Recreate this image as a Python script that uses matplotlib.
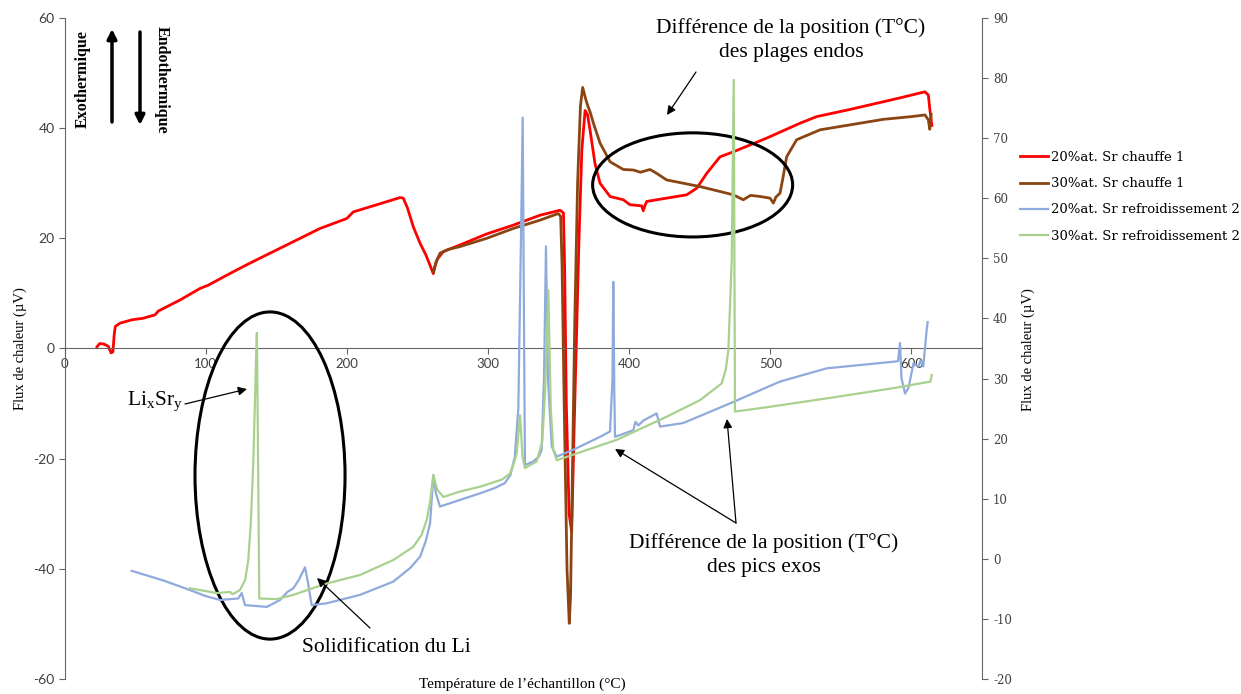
import matplotlib
matplotlib.use("Agg")
import matplotlib.pyplot as plt
from matplotlib.patches import Ellipse

plt.rcParams["axes.unicode_minus"] = False

# --- donnees ---
red_t = [23, 25, 28, 31, 33, 34.3, 35.2, 36, 39.3, 47.6, 55.8, 64.1, 66.5, 81.8, 96, 101.9, 114.9,
         129.1, 138.5, 152.7, 166.9, 181.1, 200, 204.6, 220, 237.7, 240, 243, 247.1, 251.9, 256,
         261.3, 262.5, 264, 268.4, 280.2, 299.1, 318, 336.9, 351.1, 353.5, 354.3, 355.5, 357.5,
         359.3, 361, 362.5, 364.5, 366.5, 368.8, 370.5, 372.3, 375.8, 379.4, 386.5, 395.9, 400.6,
         408.9, 410, 411, 412.5, 426.6, 440.8, 447.9, 455, 464.4, 473.8, 497.5, 521.1, 532.9,
         556.5, 591.9, 609.6, 612, 613, 614.5]
red_y = [0.3, 0.9, 0.8, 0.4, -0.8, -0.6, 2.5, 4.0, 4.6, 5.2, 5.5, 6.1, 6.8, 8.8, 10.9, 11.5, 13.3,
         15.2, 16.4, 18.2, 20.0, 21.8, 23.6, 24.8, 26.0, 27.4, 27.3, 25.5, 22.1, 19.1, 17.0,
         13.6, 14.9, 16.2, 17.6, 18.8, 20.8, 22.4, 24.2, 25.1, 24.6, 15, -10, -30,
         -33.3, -15, 0, 20, 36, 43.2, 42.5, 39.7, 33.6, 30.0, 27.6, 27.0, 26.1,
         25.9, 25.0, 25.8, 26.7, 27.3, 27.9, 29.1, 31.8, 34.8, 35.7, 38.2, 40.9, 42.1,
         43.4, 45.5, 46.6, 46.0, 43.5, 40.5]

brown_t = [261.3, 263, 266, 272, 280.2, 299.1, 318, 336.9, 349.8, 351.5, 352.5, 354, 356, 357.6,
           358.5, 360, 361.5, 363.5, 365.5, 367.1, 369, 370.5, 372.3, 374.7, 379.4, 386.5, 395.9,
           403, 408, 414.8, 419.5, 426.6, 438.4, 450.2, 464.4, 473.8, 480.9, 486, 492.7, 499.8,
           502.2, 504, 506.9, 509, 511.6, 518.7, 535.3, 556.5, 580, 600, 609.6, 612, 613, 614]
brown_y = [13.9, 15.5, 17.3, 18.0, 18.5, 20.0, 21.8, 23.3, 24.5, 24.0, 15, -10, -40, -49.9,
           -45, -20, 5, 30, 44, 47.4, 45.5, 44.2, 43.0, 40.9, 37.3, 33.9, 32.5,
           32.4, 32.0, 32.5, 31.8, 30.6, 30.0, 29.4, 28.5, 27.9, 27.0, 27.8, 27.6, 27.3,
           26.4, 27.5, 28.2, 31, 34.8, 37.9, 39.7, 40.6, 41.6, 42.1, 42.4, 41.5, 39.8, 42.5]

blue_t = [47.6, 70, 88.9, 100, 110.2, 123.1, 125.5, 127.9, 143.3, 152.7, 158, 162.1, 166, 170.4,
          172.5, 175.1, 185.8, 209.3, 232.9, 245, 251.9, 256, 259, 261.3, 263, 266, 280.2, 294.4,
          305, 312, 316, 319, 321.5, 323.5, 324.6, 325.5, 326.2, 332.1, 336, 338, 339.7, 341.1,
          342.5, 345.2, 348.7, 360, 379.4, 386.5, 388.2, 388.8, 389.5, 390, 403, 404.5, 406.5,
          410, 417.2, 419.5, 421.9, 438.4, 473.8, 506.9, 540, 587.2, 590.5, 591.9, 593, 595.5,
          598, 601.4, 605, 606.5, 608.4, 610.8, 611.5]
blue_y = [-2.0, -3.6, -5.2, -6.2, -6.85, -6.6, -5.7, -7.7, -8.0, -6.85, -5.5, -4.9, -3.5, -1.4,
          -4.0, -7.7, -7.4, -6.0, -3.8, -1.5, 0.35, 3.0, 5.9, 13.95, 11.0, 8.7, 9.8, 10.9,
          11.8, 12.6, 14.0, 17.0, 25, 55, 73.4, 40, 15.6, 16.2, 17.0, 18.1, 30, 52.0,
          30, 18.7, 17.0, 18.1, 20.3, 21.2, 30, 46.1, 28, 20.3, 21.4, 22.8, 22.2,
          23.0, 23.9, 24.2, 22.0, 22.6, 26.1, 29.5, 31.7, 32.8, 32.9, 35.9, 30, 27.5,
          28.5, 32.5, 32.0, 33.0, 32.0, 38.1, 39.4]

green_t = [88.9, 107.8, 117.3, 119, 124.3, 128, 130.2, 132, 133.8, 135.7, 136.3, 137, 138, 150.3,
           162.1, 185.8, 209.3, 232.9, 247.1, 253, 256.6, 259, 261.3, 264, 268.4, 280.2, 294.4,
           310, 315.6, 318.5, 320.4, 322.7, 324.5, 326.2, 334.5, 338.5, 340.4, 342.8, 344.5,
           346.3, 348.7, 391.2, 426.6, 450.2, 465.6, 468.5, 470.3, 472.7, 474.1, 474.6, 475,
           499.8, 540, 587.2, 613.5, 614.4]
green_y = [-4.9, -5.7, -5.5, -5.9, -5.2, -3.5, -0.2, 6, 16.4, 33.1, 37.6, 20, -6.6, -6.7,
           -6.0, -4.1, -2.7, -0.2, 2.0, 4.0, 6.45, 9.5, 13.95, 11.5, 10.3, 11.2, 12.0,
           13.2, 14.2, 16, 17.55, 23.9, 17, 15.1, 16.2, 19.5, 27.5, 44.7, 25,
           18.1, 16.4, 19.8, 23.65, 26.4, 29.2, 31.5, 34.75, 49.7, 79.7, 50, 24.5,
           25.3, 26.7, 28.4, 29.5, 30.6]

labels = ["20%at. Sr chauffe 1", "30%at. Sr chauffe 1",
          "20%at. Sr refroidissement 2", "30%at. Sr refroidissement 2"]

serif = "Liberation Serif"
W, H = 1241, 694

def px(x, y):
    # pixels depuis le coin haut gauche -> pixels de la figure
    return (x, H - y)

def fr(x, y):
    # pixels depuis le coin haut gauche -> fraction de la figure
    return (x / W, 1 - y / H)

fig = plt.figure(figsize=(W / 100, H / 100), dpi=100)
ax = fig.add_axes([64.5 / W, 1 - 679 / H, (982 - 64.5) / W, (679 - 18) / H])
ax.set_xlim(0, 650)
ax.set_ylim(-60, 60)
ax2 = ax.twinx()
ax2.set_ylim(-20, 90)

l1, = ax.plot(red_t, red_y, color="#FF0000", lw=2.0)
l2, = ax.plot(brown_t, brown_y, color="#8B4513", lw=2.0)
l3, = ax2.plot(blue_t, blue_y, color="#8FAADC", lw=1.6)
l4, = ax2.plot(green_t, green_y, color="#A9D18E", lw=1.6)

grey = "#666666"
ax.spines["bottom"].set_position(("data", 0))
ax.spines["top"].set_visible(False)
ax.spines["right"].set_visible(False)
for s in ["top", "left", "bottom"]:
    ax2.spines[s].set_visible(False)
ax.spines["bottom"].set_color(grey)
ax.spines["left"].set_color(grey)
ax2.spines["right"].set_color(grey)

ax.set_xticks(range(0, 700, 100))
ax.set_yticks(range(-60, 80, 20))
ax2.set_yticks(range(-20, 100, 10))
ax.tick_params(axis="x", direction="out", length=4, color=grey, pad=3, labelsize=9.5, labelcolor="#404040")
ax.tick_params(axis="y", direction="out", length=4, color=grey, pad=3, labelsize=10, labelcolor="#404040")
ax2.tick_params(axis="y", direction="out", length=4, color=grey, pad=4, labelsize=8.5, labelcolor="#404040")
for lab in ax.get_xticklabels() + ax.get_yticklabels():
    lab.set_fontfamily("Lato")
for lab in ax2.get_yticklabels():
    lab.set_fontfamily("DejaVu Serif")

# titres des axes
fig.text(*fr(522, 684), "Température de l\u2019échantillon (°C)", family=serif, fontsize=11,
         ha="center", va="center")
fig.text(*fr(20, 349), "Flux de chaleur (µV)", family=serif, fontsize=10.5, rotation=90,
         ha="center", va="center")
fig.text(*fr(1028, 350), "Flux de chaleur (µV)", family=serif, fontsize=10.5, rotation=90,
         ha="center", va="center")

fig.legend([l1, l2, l3, l4], labels, loc="upper left", bbox_to_anchor=fr(1020, 151),
           frameon=False, borderpad=0, borderaxespad=0, handlelength=2.1, handletextpad=0.25,
           labelspacing=1.0, prop={"family": "DejaVu Serif", "size": 9.5})

# exo / endo
fig.text(*fr(83, 79), "Exothermique", family=serif, fontsize=11.5, fontweight="bold",
         rotation=90, ha="center", va="center")
fig.text(*fr(162, 80), "Endothermique", family=serif, fontsize=11.5, fontweight="bold",
         rotation=270, ha="center", va="center")
thick = dict(arrowstyle="-|>", color="black", lw=2.5, mutation_scale=14, shrinkA=0, shrinkB=0)
ax.annotate("", xy=px(112, 29), xytext=px(112, 122), xycoords="figure pixels",
            textcoords="figure pixels", arrowprops=thick)
ax.annotate("", xy=px(140, 125), xytext=px(140, 32), xycoords="figure pixels",
            textcoords="figure pixels", arrowprops=thick)

# annotations
thin = dict(arrowstyle="-|>", color="black", lw=0.9, mutation_scale=13, shrinkA=0, shrinkB=0)
ax2.annotate("Différence de la position (T°C)\ndes plages endos", xy=px(791, 40),
             xycoords="figure pixels", ha="center", va="center", family=serif, fontsize=15.5,
             linespacing=1.35)
ax2.annotate("", xy=px(667, 115), xytext=px(696, 72), xycoords="figure pixels",
             textcoords="figure pixels", arrowprops=thin)

ax2.annotate("Différence de la position (T°C)\ndes pics exos", xy=px(764, 555),
             xycoords="figure pixels", ha="center", va="center", family=serif, fontsize=15.5,
             linespacing=1.35)
ax2.annotate("", xy=px(615, 449), xytext=px(736, 523), xycoords="figure pixels",
             textcoords="figure pixels", arrowprops=thin)
ax2.annotate("", xy=px(727, 419), xytext=px(736, 523), xycoords="figure pixels",
             textcoords="figure pixels", arrowprops=thin)

ax2.annotate(r"Li$_\mathregular{x}$Sr$_\mathregular{y}$", xy=px(155, 402), xycoords="figure pixels",
             ha="center", va="center", family=serif, fontsize=15.5)
ax2.annotate("", xy=px(247, 389), xytext=px(185, 404), xycoords="figure pixels",
             textcoords="figure pixels", arrowprops=thin)

ax2.annotate("Solidification du Li", xy=px(386, 647), xycoords="figure pixels",
             ha="center", va="center", family=serif, fontsize=15.5)
ax2.annotate("", xy=px(317, 578), xytext=px(370, 628), xycoords="figure pixels",
             textcoords="figure pixels", arrowprops=thin)

# ellipses
ax2.add_patch(Ellipse((445, 29.7), 141.7, 18.9, transform=ax.transData, fill=False,
                      ec="black", lw=2.2, clip_on=False))
ax2.add_patch(Ellipse((145.6, -23.06), 106.3, 59.4, transform=ax.transData, fill=False,
                      ec="black", lw=2.2, clip_on=False))

fig.savefig("out.png", dpi=100)
